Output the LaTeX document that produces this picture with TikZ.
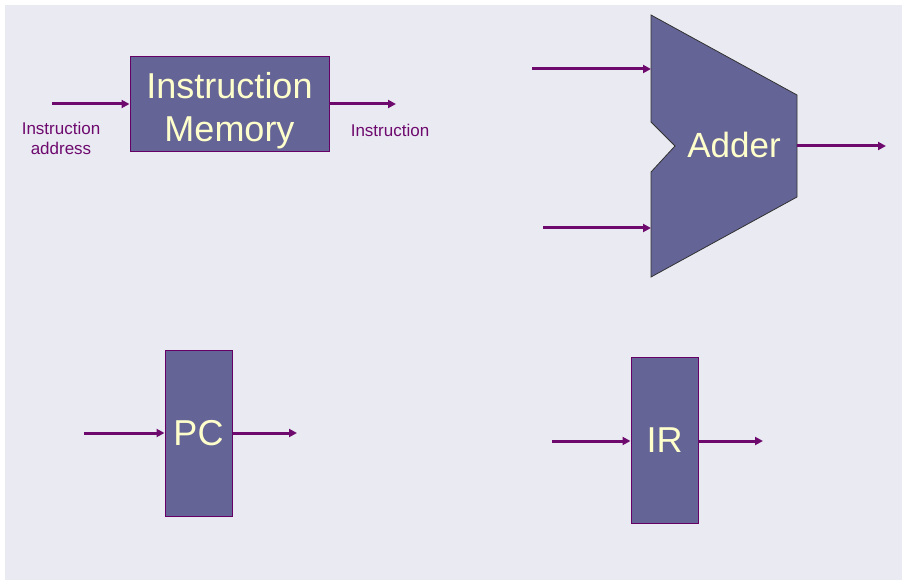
\documentclass[tikz,border=0pt]{standalone}
\usepackage{fontspec}
\setmainfont{Liberation Sans}
\usetikzlibrary{arrows.meta}
\definecolor{blockfill}{RGB}{100,100,150}
\definecolor{blockline}{RGB}{102,0,102}
\definecolor{wire}{RGB}{110,10,110}
\definecolor{blocktext}{RGB}{255,255,204}
\definecolor{sheet}{RGB}{234,234,243}
\begin{document}
\begin{tikzpicture}[x=1pt, y=-1pt,
    block/.style={draw=blockline, fill=blockfill, line width=1pt, text=blocktext,
        font=\fontsize{36}{43}\selectfont, align=center, inner sep=0pt},
    wirearrow/.style={draw=wire, line width=3pt, -{Triangle[length=8pt,width=8pt]}},
    lbl/.style={text=wire, font=\fontsize{17}{20}\selectfont, align=center}]
    % 1. background sheet
    \useasboundingbox (0,0) rectangle (905,585);
    \fill[sheet] (5,5) rectangle (902,580);

    % 2. instruction memory
    \node[block, minimum width=199pt, minimum height=95pt] (imem) at (229.5,104.5) {};
    \node[text=blocktext, font=\fontsize{36}{43}\selectfont, align=center] (imemtext) at (229.5,111) {Instruction\\Memory};
    \coordinate (imemin) at (52,104);
    \coordinate (imemout) at (396,104);
    \draw[wirearrow] (imemin) -- (imem.west |- imemin);
    \draw[wirearrow] (imem.east |- imemout) -- (imemout);
    \node[lbl] (addrlbl) at (61,138) {Instruction\\address};
    \node[lbl] (instrlbl) at (390,130) {Instruction};

    % 3. adder (notched trapezoid)
    \coordinate (atl) at (651,15);
    \coordinate (atr) at (797,95);
    \coordinate (abr) at (797,197);
    \coordinate (abl) at (651,277);
    \coordinate (anu) at (651,122);
    \coordinate (ant) at (675,146);
    \coordinate (anl) at (651,172);
    \filldraw[fill=blockfill, draw=black!80, line width=0.8pt]
        (atl) -- (atr) -- (abr) -- (abl) -- (anl) -- (ant) -- (anu) -- cycle;
    \node[text=blocktext, font=\fontsize{35}{40}\selectfont] (adder) at (734,145) {Adder};
    \coordinate (addina) at (532,69);
    \coordinate (addinb) at (543,228);
    \coordinate (addout) at (886,146);
    \draw[wirearrow] (addina) -- (atl |- addina);
    \draw[wirearrow] (addinb) -- (atl |- addinb);
    \draw[wirearrow] (atr |- addout) -- (addout);

    % 4. PC and IR registers
    \node[block, minimum width=67pt, minimum height=166pt] (pc) at (198.5,433) {PC};
    \coordinate (pcin) at (84,433);
    \coordinate (pcout) at (297,433);
    \draw[wirearrow] (pcin) -- (pc.west |- pcin);
    \draw[wirearrow] (pc.east |- pcout) -- (pcout);

    \node[block, minimum width=67pt, minimum height=166pt] (ir) at (664.5,440) {IR};
    \coordinate (irin) at (552,441);
    \coordinate (irout) at (763,441);
    \draw[wirearrow] (irin) -- (ir.west |- irin);
    \draw[wirearrow] (ir.east |- irout) -- (irout);
\end{tikzpicture}
\end{document}
